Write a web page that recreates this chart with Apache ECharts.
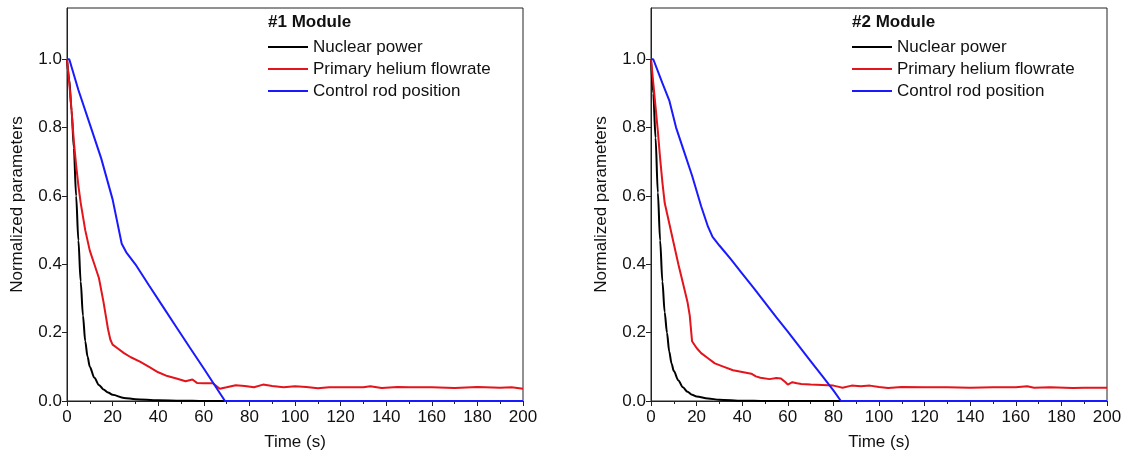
<!DOCTYPE html>
<html>
<head>
<meta charset="utf-8">
<script src="https://cdn.jsdelivr.net/npm/echarts@6/dist/echarts.min.js"></script>
<style>
  html, body { margin: 0; padding: 0; background: #fff; }
  #chart { width: 1127px; height: 460px; }
</style>
</head>
<body>
<div id="chart"></div>
<script>
// tick labels / names
var xTicks = [0, 20, 40, 60, 80, 100, 120, 140, 160, 180, 200];
var yTicks = [0.0, 0.2, 0.4, 0.6, 0.8, 1.0];
var seriesNames = ['Nuclear power', 'Primary helium flowrate', 'Control rod position'];
var moduleNames = ['#1 Module', '#2 Module'];

// #1 module - nuclear power
var powerT1 = [0, 1, 2, 3, 4, 5, 6, 7, 8, 9, 10, 12, 14, 16, 18, 20, 25, 30, 40, 50, 60, 200];
var powerV1 = [1.0, 0.94, 0.85, 0.74, 0.6, 0.47, 0.35, 0.25, 0.175, 0.13, 0.1, 0.068, 0.047, 0.034, 0.025, 0.018, 0.009, 0.005, 0.002, 0.001, 0, 0];
// #1 module - primary helium flowrate
var flowT1 = [0, 1, 2, 3, 4, 5, 6, 8, 10, 12, 14, 16, 18, 19, 20, 22, 25, 28, 32, 36, 40, 44, 48, 52, 55, 57, 60, 64, 67, 70, 74, 78, 82, 86, 90, 95, 100, 105, 110, 115, 120, 130, 133, 138, 145, 150, 160, 170, 180, 190, 195, 200];
var flowV1 = [1.0, 0.93, 0.85, 0.76, 0.69, 0.63, 0.58, 0.5, 0.44, 0.4, 0.36, 0.29, 0.21, 0.18, 0.165, 0.155, 0.14, 0.128, 0.115, 0.1, 0.084, 0.073, 0.066, 0.058, 0.063, 0.053, 0.052, 0.052, 0.036, 0.04, 0.046, 0.044, 0.04, 0.048, 0.044, 0.04, 0.043, 0.041, 0.037, 0.04, 0.04, 0.04, 0.043, 0.038, 0.041, 0.04, 0.04, 0.038, 0.041, 0.039, 0.04, 0.036];
// #1 module - control rod position
var rodT1 = [0, 1, 5, 10, 15, 20, 24, 26, 30, 36, 42, 48, 54, 60, 65, 69.3, 200];
var rodV1 = [1.0, 1.0, 0.91, 0.81, 0.71, 0.59, 0.46, 0.435, 0.4, 0.338, 0.277, 0.216, 0.155, 0.095, 0.044, 0, 0];

// #2 module - nuclear power
var powerT2 = [0, 1, 2, 3, 4, 5, 6, 7, 8, 9, 10, 12, 14, 16, 18, 20, 25, 30, 40, 50, 200];
var powerV2 = [1.0, 0.9, 0.77, 0.61, 0.47, 0.35, 0.26, 0.2, 0.145, 0.11, 0.088, 0.06, 0.04, 0.027, 0.018, 0.013, 0.007, 0.004, 0.001, 0, 0];
// #2 module - primary helium flowrate
var flowT2 = [0, 1, 2, 3, 4, 5, 6, 7, 8, 10, 12, 14, 16, 17, 18, 20, 22, 25, 28, 32, 36, 40, 44, 46, 48, 52, 55, 57, 59, 60, 62, 64, 66, 70, 75, 80, 82, 84, 88, 92, 96, 100, 104, 110, 120, 130, 140, 150, 160, 165, 168, 175, 185, 190, 200];
var flowV2 = [1.0, 0.93, 0.86, 0.79, 0.71, 0.64, 0.58, 0.55, 0.52, 0.46, 0.4, 0.345, 0.29, 0.25, 0.175, 0.155, 0.14, 0.125, 0.11, 0.1, 0.09, 0.085, 0.08, 0.072, 0.068, 0.064, 0.067, 0.066, 0.055, 0.048, 0.055, 0.052, 0.05, 0.048, 0.047, 0.045, 0.042, 0.039, 0.045, 0.043, 0.045, 0.041, 0.038, 0.041, 0.04, 0.04, 0.039, 0.04, 0.04, 0.043, 0.039, 0.04, 0.038, 0.039, 0.039];
// #2 module - control rod position
var rodT2 = [0, 1, 5, 8, 11, 14, 18, 22, 25, 27, 30, 35, 40, 45, 50, 55, 60, 65, 70, 75, 80, 83.3, 200];
var rodV2 = [1.0, 1.0, 0.93, 0.88, 0.8, 0.74, 0.66, 0.57, 0.51, 0.48, 0.455, 0.415, 0.373, 0.331, 0.288, 0.245, 0.203, 0.16, 0.117, 0.074, 0.031, 0, 0];

var colors = ['#000000', '#e3141b', '#1a1aff'];
var fontFamily = 'Liberation Sans, Arial, sans-serif';

function zip(t, v) {
    var out = [];
    for (var i = 0; i < t.length; i++) out.push([t[i], v[i]]);
    return out;
}

var myChart = echarts.init(document.getElementById('chart'));

var grids = [
    { left: 67, top: 8, width: 456, height: 393 },
    { left: 651, top: 8, width: 456, height: 393 }
];

function makeX(i) {
    return {
        type: 'value', gridIndex: i, min: 0, max: 200, interval: 20,
        name: 'Time (s)', nameLocation: 'middle', nameGap: 33,
        nameTextStyle: { color: '#111', fontSize: 17, fontFamily: fontFamily },
        axisLine: { show: true, lineStyle: { color: '#222', width: 1 } },
        axisTick: { show: true, inside: false, length: 5, lineStyle: { color: '#222' } },
        minorTick: { show: true, splitNumber: 2, length: 3, lineStyle: { color: '#222' } },
        axisLabel: { color: '#111', fontSize: 17, fontFamily: fontFamily, margin: 8,
            formatter: function (v) { return xTicks.indexOf(v) >= 0 ? String(v) : ''; } },
        splitLine: { show: false }
    };
}

function makeY(i) {
    return {
        type: 'value', gridIndex: i, min: 0, max: 1.15, interval: 0.2,
        name: 'Normalized parameters', nameLocation: 'middle', nameGap: 41,
        nameTextStyle: { color: '#111', fontSize: 17, fontFamily: fontFamily },
        axisLine: { show: true, lineStyle: { color: '#222', width: 1 } },
        axisTick: { show: true, inside: false, length: 5, lineStyle: { color: '#222' },
            customValues: yTicks },
        axisLabel: { color: '#111', fontSize: 17, fontFamily: fontFamily, margin: 5,
            customValues: yTicks,
            formatter: function (v) { return v.toFixed(1); } },
        splitLine: { show: false }
    };
}

function makeLine(name, data, i, c, smooth) {
    return {
        name: name, type: 'line', xAxisIndex: i, yAxisIndex: i,
        data: data, showSymbol: false, symbol: 'none', clip: false,
        smooth: smooth, smoothMonotone: 'x',
        lineStyle: { color: colors[c], width: 2 },
        itemStyle: { color: colors[c] },
        animation: false
    };
}

function makeLegend(i, left) {
    return {
        orient: 'vertical', left: left, top: 37,
        data: seriesNames, icon: 'rect', itemWidth: 40, itemHeight: 2,
        itemGap: 2, selectedMode: false, padding: 0,
        textStyle: { color: '#111', fontSize: 17, fontFamily: fontFamily, lineHeight: 20 }
    };
}

var option = {
    backgroundColor: '#fff',
    animation: false,
    title: [
        { text: moduleNames[0], left: 268, top: 14, padding: 0,
          textStyle: { fontSize: 17, fontWeight: 'bold', color: '#111', fontFamily: fontFamily } },
        { text: moduleNames[1], left: 852, top: 14, padding: 0,
          textStyle: { fontSize: 17, fontWeight: 'bold', color: '#111', fontFamily: fontFamily } }
    ],
    legend: [makeLegend(0, 268), makeLegend(1, 852)],
    grid: grids.map(function (g) {
        return Object.assign({ show: true, borderColor: '#222', borderWidth: 1, backgroundColor: 'transparent' }, g);
    }),
    xAxis: [makeX(0), makeX(1)],
    yAxis: [makeY(0), makeY(1)],
    series: [
        makeLine(seriesNames[0], zip(powerT1, powerV1), 0, 0, 0.3),
        makeLine(seriesNames[1], zip(flowT1, flowV1), 0, 1, false),
        makeLine(seriesNames[2], zip(rodT1, rodV1), 0, 2, false),
        makeLine(seriesNames[0], zip(powerT2, powerV2), 1, 0, 0.3),
        makeLine(seriesNames[1], zip(flowT2, flowV2), 1, 1, false),
        makeLine(seriesNames[2], zip(rodT2, rodV2), 1, 2, false)
    ]
};

myChart.setOption(option);
window.addEventListener('resize', function () {
    myChart.resize();
});
</script>
</body>
</html>
